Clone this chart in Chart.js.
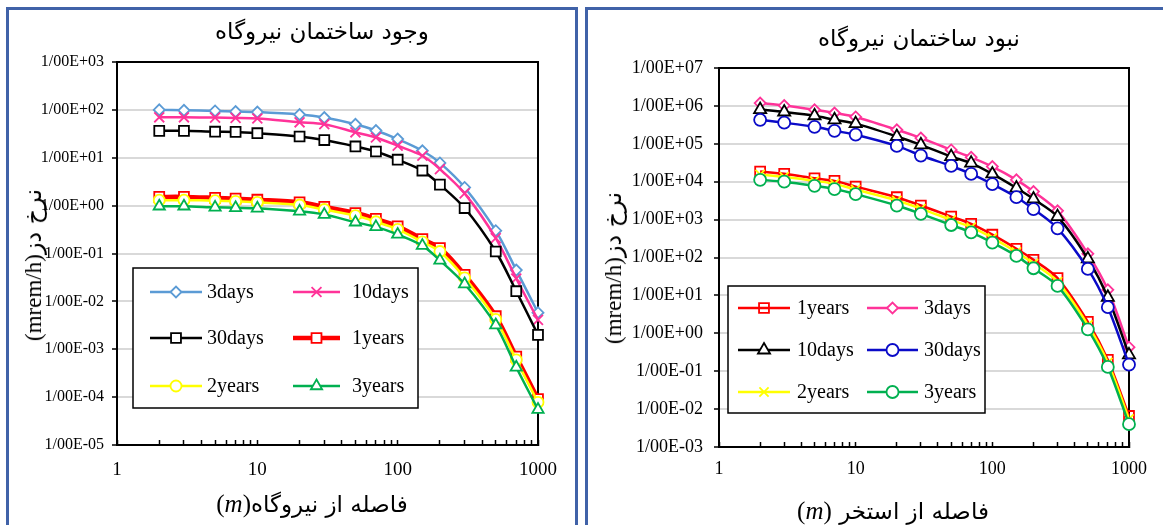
<!DOCTYPE html>
<html>
<head>
<meta charset="utf-8">
<script src="https://cdn.jsdelivr.net/npm/chart.js@4.4.1/dist/chart.umd.min.js"></script>
<style>
html,body{margin:0;padding:0;background:#fff;width:1163px;height:525px;overflow:hidden;position:relative;}
.frame{position:absolute;border:3px solid #4062A8;box-sizing:border-box;}
.cv{position:absolute;}
.t{position:absolute;white-space:nowrap;color:#000;transform:translate(-50%,-50%);line-height:1;}
.fa{font-family:'DejaVu Sans',sans-serif;}
.tm{font-family:'Liberation Serif','Times New Roman',serif;}
.rot{transform:translate(-50%,-50%) rotate(-90deg);}
</style>
</head>
<body>
<div class="frame" style="left:6px;top:7px;width:572px;height:540px"></div>
<div class="frame" style="left:585px;top:7px;width:600px;height:540px"></div>
<div class="cv" style="left:0;top:0;width:580px;height:525px"><canvas id="c1" width="580" height="525" style="width:580px;height:525px"></canvas></div>
<div class="cv" style="left:580px;top:0;width:583px;height:525px"><canvas id="c2" width="583" height="525" style="width:583px;height:525px"></canvas></div>

<div class="t fa" dir="rtl" style="left:322px;top:31px;font-size:23px">وجود ساختمان نیروگاه</div>
<div class="t fa" dir="rtl" style="left:919px;top:38px;font-size:23px">نبود ساختمان نیروگاه</div>

<div class="t rot" dir="rtl" style="left:33px;top:265px;"><span class="fa" style="font-size:24px">نرخ دز</span><span class="tm" style="font-size:23px">(mrem/h)</span></div>
<div class="t rot" dir="rtl" style="left:613px;top:268px;"><span class="fa" style="font-size:24px">نرخ دز</span><span class="tm" style="font-size:23px">(mrem/h)</span></div>

<div class="t" dir="rtl" style="left:312px;top:503px;"><span class="fa" style="font-size:23px">فاصله از نیروگاه</span><span class="tm" style="font-size:25px">(<i>m</i>)</span></div>
<div class="t" dir="rtl" style="left:893px;top:510px;"><span class="fa" style="font-size:23px">فاصله از استخر </span><span class="tm" style="font-size:25px">(<i>m</i>)</span></div>

<script>
// ---------- DATA ----------
const distances = [2, 3, 5, 7, 10, 20, 30, 50, 70, 100, 150, 200, 300, 500, 700, 1000];

// With plant building (left chart)
const withBuilding3days  = [100, 98, 95, 92, 90, 80, 69, 50, 37, 24.5, 14, 7.8, 2.4, 0.3, 0.045, 0.0058];
const withBuilding10days = [70, 70, 69, 68, 66, 55, 50, 34, 26.5, 17.8, 11, 5.8, 1.8, 0.21, 0.03, 0.0041];
const withBuilding30days = [36.5, 36.5, 35, 34.7, 32.6, 27.8, 23.4, 17.2, 13.5, 9.1, 5.4, 2.74, 0.89, 0.11, 0.0163, 0.002];
const withBuilding1years = [1.52, 1.52, 1.45, 1.4, 1.33, 1.17, 0.94, 0.7, 0.53, 0.37, 0.2, 0.13, 0.036, 0.0049, 0.0007, 0.000091];
const withBuilding2years = [1.3, 1.3, 1.27, 1.23, 1.17, 1.03, 0.83, 0.62, 0.46, 0.32, 0.175, 0.11, 0.031, 0.0042, 0.0006, 0.000078];
const withBuilding3years = [0.97, 0.97, 0.92, 0.9, 0.88, 0.76, 0.65, 0.45, 0.36, 0.25, 0.146, 0.072, 0.023, 0.0032, 0.00042, 0.000055];

// Without plant building (right chart)
const noBuilding1years = [18600, 16200, 12300, 10500, 7400, 3900, 2350, 1200, 770, 400, 170, 87, 28.5, 2.0, 0.2, 0.0066];
const noBuilding3days  = [1190000, 1020000, 790000, 650000, 510000, 234000, 142000, 69000, 44000, 25000, 11200, 5500, 1700, 125, 14, 0.43];
const noBuilding10days = [800000, 690000, 550000, 430000, 340000, 156000, 94000, 46000, 31000, 16000, 6800, 3500, 1200, 92, 8.9, 0.27];
const noBuilding30days = [430000, 360000, 280000, 220000, 174000, 88000, 49000, 26000, 16000, 8600, 3900, 1900, 590, 50, 4.9, 0.15];
const noBuilding2years = [15500, 13500, 10500, 8800, 6200, 3200, 1950, 980, 630, 330, 140, 70, 23, 1.65, 0.17, 0.0055];
const noBuilding3years = [11200, 10000, 7800, 6400, 4700, 2350, 1420, 720, 460, 246, 110, 52, 17.8, 1.27, 0.13, 0.004];

// Tick labels
const xTickLabels = ['1', '10', '100', '1000'];
const leftYTickLabels  = ['1/00E-05', '1/00E-04', '1/00E-03', '1/00E-02', '1/00E-01', '1/00E+00', '1/00E+01', '1/00E+02', '1/00E+03'];
const rightYTickLabels = ['1/00E-03', '1/00E-02', '1/00E-01', '1/00E+00', '1/00E+01', '1/00E+02', '1/00E+03', '1/00E+04', '1/00E+05', '1/00E+06', '1/00E+07'];

// ---------- STYLES ----------
const SERIF = "'Liberation Serif','Times New Roman',serif";
const styles = {
  L3days:  {color: '#5B9BD5', fill: '#fff', marker: 'rectRot',  r: 5.5, lw: 2.5},
  L10days: {color: '#FF3399', fill: '#fff', marker: 'crossRot', r: 7,   lw: 2.5},
  L30days: {color: '#000000', fill: '#fff', marker: 'rect',     r: 7,   lw: 2.5},
  L1years: {color: '#FF0000', fill: '#fff', marker: 'rect',     r: 7,   lw: 4.5},
  L2years: {color: '#FFFF00', fill: '#fff', marker: 'circle',   r: 5.5, lw: 2.5},
  L3years: {color: '#00B050', fill: '#fff', marker: 'triangle', r: 6.5, lw: 2.5},
  R1years: {color: '#FF0000', fill: 'rgba(255,255,255,0)', marker: 'rect', r: 7, lw: 2.5},
  R3days:  {color: '#FF3399', fill: '#fff', marker: 'rectRot',  r: 5.5, lw: 2.5},
  R10days: {color: '#000000', fill: '#fff', marker: 'triangle', r: 7,   lw: 2.5},
  R30days: {color: '#0A0AC8', fill: '#fff', marker: 'circle',   r: 6,   lw: 2.5},
  R2years: {color: '#FFFF00', fill: '#fff', marker: 'crossRot', r: 6.5, lw: 2.5},
  R3years: {color: '#00B050', fill: '#fff', marker: 'circle',   r: 6,   lw: 2.5}
};

// ---------- PLUGINS ----------
const framePlugin = {
  id: 'plotFrame',
  beforeDatasetsDraw(chart) {
    const a = chart.chartArea, ctx = chart.ctx;
    ctx.save();
    ctx.strokeStyle = '#000'; ctx.lineWidth = 2;
    ctx.beginPath();
    ctx.moveTo(a.left, a.top); ctx.lineTo(a.right, a.top); ctx.lineTo(a.right, a.bottom);
    ctx.stroke();
    ctx.restore();
  }
};

function fallbackPoint(ctx, style, r, x, y) {
  ctx.beginPath();
  if (style === 'circle') { ctx.arc(x, y, r, 0, Math.PI * 2); ctx.fill(); ctx.stroke(); return; }
  if (style === 'rect') { const s = r * Math.SQRT1_2; ctx.rect(x - s, y - s, 2 * s, 2 * s); ctx.fill(); ctx.stroke(); return; }
  if (style === 'rectRot') { ctx.moveTo(x - r, y); ctx.lineTo(x, y - r); ctx.lineTo(x + r, y); ctx.lineTo(x, y + r); ctx.closePath(); ctx.fill(); ctx.stroke(); return; }
  if (style === 'triangle') { ctx.moveTo(x, y - r); ctx.lineTo(x + r * 0.866, y + r * 0.5); ctx.lineTo(x - r * 0.866, y + r * 0.5); ctx.closePath(); ctx.fill(); ctx.stroke(); return; }
  if (style === 'crossRot') { const s = r * Math.SQRT1_2; ctx.moveTo(x - s, y - s); ctx.lineTo(x + s, y + s); ctx.moveTo(x - s, y + s); ctx.lineTo(x + s, y - s); ctx.stroke(); }
}

const boxLegendPlugin = {
  id: 'boxLegend',
  afterDraw(chart, args, o) {
    const L = o.layout; if (!L) return;
    const ctx = chart.ctx;
    ctx.save();
    ctx.fillStyle = '#fff';
    ctx.fillRect(L.x, L.y, L.w, L.h);
    ctx.strokeStyle = '#000'; ctx.lineWidth = 1.5;
    ctx.strokeRect(L.x, L.y, L.w, L.h);
    L.items.forEach(it => {
      const ds = chart.data.datasets.find(d => d.label === it.label);
      ctx.strokeStyle = ds.borderColor; ctx.lineWidth = ds.borderWidth; ctx.lineCap = 'butt';
      ctx.beginPath(); ctx.moveTo(it.x0, it.y); ctx.lineTo(it.x1, it.y); ctx.stroke();
      ctx.fillStyle = ds.pointBackgroundColor; ctx.strokeStyle = ds.pointBorderColor; ctx.lineWidth = ds.pointBorderWidth;
      const cx = (it.x0 + it.x1) / 2;
      if (Chart.helpers && Chart.helpers.drawPoint) {
        Chart.helpers.drawPoint(ctx, {pointStyle: ds.pointStyle, radius: ds.pointRadius, borderWidth: ds.pointBorderWidth, rotation: 0}, cx, it.y);
      } else {
        fallbackPoint(ctx, ds.pointStyle, ds.pointRadius, cx, it.y);
      }
      ctx.fillStyle = '#000';
      ctx.font = L.font;
      ctx.textAlign = 'left'; ctx.textBaseline = 'alphabetic';
      ctx.fillText(ds.label, it.tx, it.y + L.baseOff);
    });
    ctx.restore();
  }
};

// ---------- BUILD ----------
function buildChart(canvasId, spec) {
  const n = spec.series.length;
  const datasets = spec.series.map((s, i) => {
    const st = styles[s.style];
    return {
      label: s.label,
      data: s.values.map((v, j) => ({x: distances[j], y: v})),
      borderColor: st.color,
      backgroundColor: st.fill,
      borderWidth: st.lw,
      pointStyle: st.marker,
      pointRadius: st.r,
      pointHoverRadius: st.r,
      pointBorderWidth: 1.8,
      pointBackgroundColor: st.fill,
      pointBorderColor: st.color,
      tension: 0.3,
      clip: false,
      order: n - i
    };
  });
  const minExpY = spec.yMinExp, maxExpY = spec.yMaxExp;
  return new Chart(document.getElementById(canvasId), {
    type: 'line',
    data: {datasets},
    plugins: [framePlugin, boxLegendPlugin],
    options: {
      responsive: false,
      animation: false,
      devicePixelRatio: 1,
      layout: {padding: spec.padding},
      plugins: {
        legend: {display: false},
        tooltip: {enabled: false},
        title: {display: false},
        boxLegend: {layout: spec.legend}
      },
      scales: {
        x: {
          type: 'logarithmic',
          position: 'bottom',
          min: 1, max: 1000,
          afterBuildTicks(scale) {
            const t = [];
            for (let e = 0; e < 3; e++) for (let m = 1; m <= 9; m++) t.push({value: m * Math.pow(10, e), major: m === 1});
            t.push({value: 1000, major: true});
            scale.ticks = t;
          },
          afterFit(scale) { scale.height = spec.xAxisHeight; },
          ticks: {
            autoSkip: false, maxRotation: 0, minRotation: 0,
            color: '#000',
            font: {family: SERIF, size: spec.xFont},
            padding: spec.xPad,
            callback(v) {
              const k = Math.round(Math.log10(v));
              return Math.abs(Math.log10(v) - k) < 1e-9 ? xTickLabels[k] : '';
            }
          },
          grid: {drawOnChartArea: false, drawTicks: true, tickLength: -5, tickColor: '#000', tickWidth: 1.5},
          border: {display: true, color: '#000', width: 2}
        },
        y: {
          type: 'logarithmic',
          position: 'left',
          min: Math.pow(10, minExpY), max: Math.pow(10, maxExpY),
          afterBuildTicks(scale) {
            const t = [];
            for (let e = minExpY; e <= maxExpY; e++) t.push({value: Math.pow(10, e), major: true});
            scale.ticks = t;
          },
          afterFit(scale) { scale.width = spec.yAxisWidth; },
          ticks: {
            autoSkip: false,
            color: '#000',
            font: {family: SERIF, size: spec.yFont},
            padding: spec.yPad,
            callback(v) { return spec.yLabels[Math.round(Math.log10(v)) - minExpY]; }
          },
          grid: {color: '#D9D9D9', lineWidth: 2, drawTicks: true, tickLength: 5, tickColor: '#000', tickWidth: 1.5},
          border: {display: true, color: '#000', width: 2}
        }
      }
    }
  });
}

buildChart('c1', {
  series: [
    {label: '3days',  values: withBuilding3days,  style: 'L3days'},
    {label: '10days', values: withBuilding10days, style: 'L10days'},
    {label: '30days', values: withBuilding30days, style: 'L30days'},
    {label: '1years', values: withBuilding1years, style: 'L1years'},
    {label: '2years', values: withBuilding2years, style: 'L2years'},
    {label: '3years', values: withBuilding3years, style: 'L3years'}
  ],
  yMinExp: -5, yMaxExp: 3, yLabels: leftYTickLabels,
  padding: {top: 62, right: 42, left: 0, bottom: 0},
  yAxisWidth: 117, xAxisHeight: 80,
  xFont: 19, xPad: 19, yFont: 16, yPad: 8,
  legend: {
    x: 133, y: 268, w: 285, h: 140, font: '20px ' + SERIF, baseOff: 6,
    items: [
      {label: '3days',  x0: 150, x1: 202, tx: 207, y: 292},
      {label: '10days', x0: 293, x1: 340, tx: 352, y: 292},
      {label: '30days', x0: 150, x1: 202, tx: 207, y: 338},
      {label: '1years', x0: 293, x1: 340, tx: 352, y: 338},
      {label: '2years', x0: 150, x1: 202, tx: 207, y: 386},
      {label: '3years', x0: 293, x1: 340, tx: 352, y: 386}
    ]
  }
});

buildChart('c2', {
  series: [
    {label: '1years', values: noBuilding1years, style: 'R1years'},
    {label: '3days',  values: noBuilding3days,  style: 'R3days'},
    {label: '10days', values: noBuilding10days, style: 'R10days'},
    {label: '30days', values: noBuilding30days, style: 'R30days'},
    {label: '2years', values: noBuilding2years, style: 'R2years'},
    {label: '3years', values: noBuilding3years, style: 'R3years'}
  ],
  yMinExp: -3, yMaxExp: 7, yLabels: rightYTickLabels,
  padding: {top: 68, right: 24, left: 0, bottom: 0},
  yAxisWidth: 139, xAxisHeight: 78,
  xFont: 18, xPad: 16, yFont: 18, yPad: 11,
  legend: {
    x: 148, y: 286, w: 257, h: 127, font: '20px ' + SERIF, baseOff: 6,
    items: [
      {label: '1years', x0: 158, x1: 210, tx: 217, y: 308},
      {label: '3days',  x0: 287, x1: 338, tx: 344, y: 308},
      {label: '10days', x0: 158, x1: 210, tx: 217, y: 350},
      {label: '30days', x0: 287, x1: 338, tx: 344, y: 350},
      {label: '2years', x0: 158, x1: 210, tx: 217, y: 392},
      {label: '3years', x0: 287, x1: 338, tx: 344, y: 392}
    ]
  }
});
</script>
</body>
</html>
